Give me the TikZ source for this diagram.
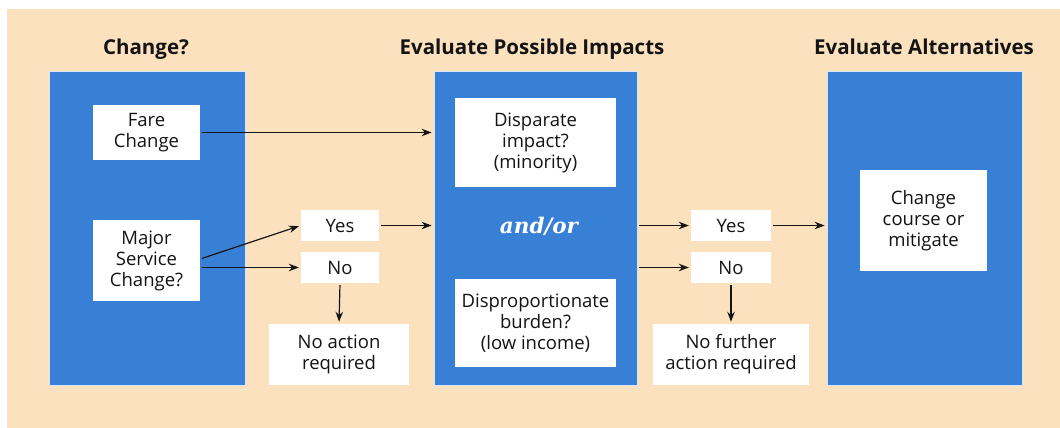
\documentclass[tikz,border=0pt]{standalone}
\usepackage{fontspec}
\setmainfont{Open Sans}
\newfontfamily\andorfont{DejaVu Serif}
\usetikzlibrary{arrows.meta}
\definecolor{sand}{RGB}{252,225,190}
\definecolor{panelblue}{RGB}{56,127,214}
\definecolor{ink}{RGB}{20,20,20}
\tikzset{
  panel/.style={fill=panelblue, draw=white!80!panelblue, line width=0.8pt, inner sep=0pt},
  box/.style={fill=white, text=ink, align=center, inner sep=0pt, font=\fontsize{18.5}{21}\selectfont},
  heading/.style={text=ink, anchor=base, inner sep=0pt, font=\fontsize{20.5}{24}\selectfont\bfseries},
  flow/.style={draw=ink, line width=1.2pt, -{Stealth[length=10pt,width=7.5pt]}, shorten >=2pt, shorten <=2pt},
}

\begin{document}
\begin{tikzpicture}[x=1pt, y=-1pt]
\useasboundingbox (0,0) rectangle (1060,428);
\fill[white] (0,0) rectangle (1060,428);
\fill[sand] (7,9) rectangle (1060,428);
%headings
\node[heading] (changetitle) at (146,55) {Change?};
\node[heading] (impactstitle) at (532,55) {Evaluate Possible Impacts};
\node[heading] (altstitle) at (924,55) {Evaluate Alternatives};
%panels
\node[panel, minimum width=196pt, minimum height=314pt] (change) at (147,228) {};
\node[panel, minimum width=203pt, minimum height=314pt] (impacts) at (535.5,228) {};
\node[panel, minimum width=195pt, minimum height=314pt] (alts) at (924.5,228) {};
%boxes
\node[box, minimum width=107pt, minimum height=55pt] (fare) at (146.5,132.5) {Fare\\Change};
\node[box, minimum width=107pt, minimum height=81pt] (major) at (146.5,260.5) {Major\\Service\\Change?};
\node[box, minimum width=78pt, minimum height=31pt] (yesA) at (340,225.5) {Yes};
\node[box, minimum width=78pt, minimum height=31pt] (noA) at (340,267.5) {No};
\node[box, minimum width=140pt, minimum height=61pt] (noaction) at (339,354.5) {No action\\required};
\node[box, minimum width=161pt, minimum height=89pt] (disparate) at (535.5,142.5) {Disparate\\impact?\\(minority)};
\node[text=white, inner sep=0pt, font=\fontsize{21.5}{24}\andorfont\bfseries\itshape] (andor) at (539,226) {and/or};
\node[box, minimum width=161pt, minimum height=88pt] (burden) at (535.5,323) {Disproportionate\\burden?\\(low income)};
\node[box, minimum width=80pt, minimum height=31pt] (yesB) at (731,225.5) {Yes};
\node[box, minimum width=80pt, minimum height=31pt] (noB) at (731,267.5) {No};
\node[box, minimum width=156pt, minimum height=61pt] (nofurther) at (731,354.5) {No further\\action required};
\node[box, minimum width=127pt, minimum height=101pt] (mitigate) at (923.5,220.5) {Change\\course or\\mitigate};
%arrows
\draw[flow] (fare.east) -- (fare.east -| impacts.west);
\draw[flow] ([yshift=1.5pt]major.east) -- (yesA.west);
\draw[flow] (major.east |- noA.west) -- (noA.west);
\draw[flow] (yesA.east) -- (yesA.east -| impacts.west);
\draw[flow] (noA.south) -- (noaction.north);
\draw[flow] (impacts.east |- yesB.west) -- (yesB.west);
\draw[flow] (impacts.east |- noB.west) -- (noB.west);
\draw[flow] (yesB.east) -- (yesB.east -| alts.west);
\draw[flow] (noB.south) -- (nofurther.north);
\end{tikzpicture}
\end{document}
